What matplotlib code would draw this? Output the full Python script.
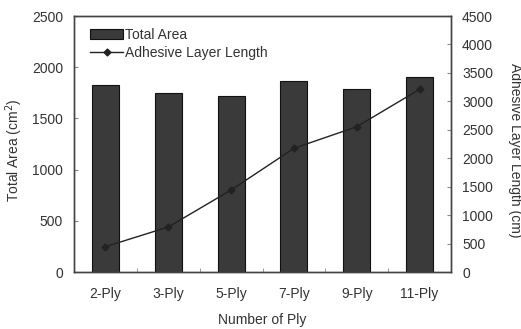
import matplotlib.pyplot as plt
import numpy as np

# data
plies = ['2-Ply', '3-Ply', '5-Ply', '7-Ply', '9-Ply', '11-Ply']
total_area = [1826, 1751, 1716, 1868, 1787, 1904]
adhesive_len = [445, 791, 1441, 2174, 2554, 3211]

plt.rcParams['font.family'] = ['Liberation Sans', 'DejaVu Sans']
plt.rcParams['font.size'] = 10
tc = '#333333'

fig = plt.figure(figsize=(5.21, 3.29), dpi=100)
ax = fig.add_axes([74/521, 1-272/329, (451-74)/521, (272-16)/329])
x = np.arange(len(plies))

bars = ax.bar(x, total_area, width=0.43, color='#3a3a3a', edgecolor='#111111',
              linewidth=0.8, label='Total Area', zorder=2)
ax.set_xlim(-0.5, 5.5)
ax.set_ylim(0, 2500)
ax.set_yticks(range(0, 2501, 500))
ax.set_xticks(x)
ax.set_xticklabels(plies, color=tc)
ax.set_xticks(x[:-1] + 0.5, minor=True)
ax.tick_params(axis='x', which='major', length=0, pad=11)
ax.tick_params(axis='x', which='minor', direction='in', length=3, color='#888888')
ax.tick_params(axis='y', direction='in', length=3, color='#888888', labelcolor=tc, pad=8)
for s in ax.spines.values():
    s.set_color('#444444')
    s.set_linewidth(1.0)

ax2 = ax.twinx()
line, = ax2.plot(x, adhesive_len, color='#222222', lw=1.0, marker='D', ms=3.5,
                 label='Adhesive Layer Length', zorder=3)
ax2.set_ylim(0, 4500)
ax2.set_yticks(range(0, 4501, 500))
ax2.tick_params(axis='y', direction='in', length=3, color='#888888', labelcolor=tc, pad=8)
for s in ax2.spines.values():
    s.set_color('#444444')
    s.set_linewidth(1.0)

ax.legend([bars, line], ['Total Area', 'Adhesive Layer Length'], loc='upper left',
          frameon=False, bbox_to_anchor=(0.042, 0.955), borderaxespad=0, borderpad=0,
          handlelength=2.4, handletextpad=0.15, labelspacing=0.3, labelcolor=tc)

fig.text(262/521, 1-320/329, 'Number of Ply', ha='center', va='center', color=tc)
fig.text(14/521, 1-150/329, 'Total Area (cm$^2$)', rotation=90, ha='center', va='center', color=tc)
fig.text(515/521, 1-150/329, 'Adhesive Layer Length (cm)', rotation=270, ha='center',
         va='center', color=tc)

fig.savefig('out.png', dpi=100)
